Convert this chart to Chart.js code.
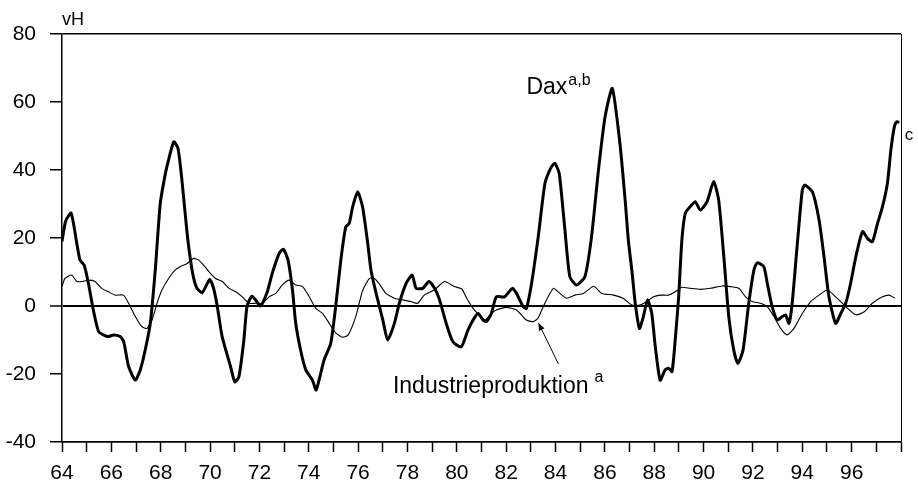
<!DOCTYPE html>
<html>
<head>
<meta charset="utf-8">
<script src="https://cdn.jsdelivr.net/npm/chart.js@4"></script>
<style>
  body { margin: 0; background: #fff; }
  canvas { display: block; }
</style>
</head>
<body>
<canvas id="chart" width="918" height="484"></canvas>
<script>
// Dax, Veraenderung gegen Vorjahr in vH (dicke Linie)
const daxYears = [64.0, 64.15, 64.37, 64.6, 64.73, 64.9, 65.07, 65.27, 65.48, 65.68, 65.88, 66.09, 66.36, 66.5, 66.7, 66.97, 67.17, 67.37, 67.58, 67.78, 67.98, 68.19, 68.32, 68.53, 68.7, 68.86, 69.07, 69.27, 69.45, 69.68, 69.99, 70.15, 70.29, 70.49, 70.83, 71.0, 71.17, 71.37, 71.5, 71.7, 71.89, 72.05, 72.32, 72.52, 72.8, 72.97, 73.16, 73.34, 73.47, 73.67, 73.88, 74.15, 74.3, 74.62, 74.89, 75.09, 75.3, 75.5, 75.64, 75.78, 75.98, 76.18, 76.39, 76.52, 76.73, 77.0, 77.2, 77.47, 77.67, 77.95, 78.19, 78.35, 78.62, 78.87, 79.1, 79.3, 79.57, 79.84, 80.18, 80.45, 80.66, 80.86, 81.06, 81.2, 81.4, 81.6, 81.94, 82.25, 82.42, 82.69, 82.82, 83.03, 83.3, 83.57, 83.8, 83.97, 84.15, 84.38, 84.58, 84.85, 85.19, 85.46, 85.74, 86.01, 86.3, 86.61, 86.82, 86.95, 87.1, 87.23, 87.4, 87.56, 87.73, 87.9, 88.04, 88.24, 88.44, 88.58, 88.72, 88.85, 88.99, 89.12, 89.26, 89.46, 89.66, 89.87, 90.14, 90.41, 90.61, 90.82, 91.02, 91.22, 91.39, 91.6, 91.83, 92.04, 92.17, 92.44, 92.58, 92.78, 92.98, 93.19, 93.32, 93.46, 93.59, 93.8, 94.0, 94.1, 94.41, 94.68, 94.88, 95.08, 95.35, 95.56, 95.76, 95.96, 96.17, 96.44, 96.64, 96.84, 97.05, 97.25, 97.45, 97.59, 97.73, 97.83, 97.93]
const daxValues = [19, 25, 27.3, 18.4, 13.5, 12, 6.7, -1.2, -7.5, -8.5, -9, -8.5, -9, -10.5, -17.8, -21.8, -18.8, -13, -5, 10.6, 30, 39, 43, 48.3, 46.4, 37, 21.4, 10.6, 5.5, 3.9, 7.8, 5, 0, -9, -17.8, -22.3, -20.8, -10, 0, 2.9, 1.3, 0, 4.2, 9.6, 15.5, 16.7, 13.5, 4.7, -5, -13, -18.8, -21.8, -24.7, -15.9, -11, -0.2, 13.5, 23.3, 24.3, 29.2, 33.6, 29.2, 18.4, 10.6, 3.7, -4.1, -10, -5.1, 0.8, 6.7, 9.1, 5.2, 5.2, 7.2, 5.2, 1.8, -5.1, -10.5, -12, -7.1, -4.1, -2.2, -4.1, -4.6, -2.2, 2.7, 2.7, 5.2, 3.7, -0.2, -0.7, 6.7, 20.4, 36, 40.5, 42, 39, 22.4, 8.6, 6.2, 8.6, 20.4, 40, 55.7, 64, 47.8, 31.2, 19.4, 10, 0.8, -6.6, -3.1, 1.8, -2.2, -11.8, -21.8, -18.8, -18.3, -19.3, -10, 2.7, 19.4, 27.3, 29.2, 30.7, 28.2, 30.7, 36.6, 31.2, 14.5, -3.1, -12.9, -16.9, -12.9, 0.8, 10.6, 12.7, 11.6, 6.7, -0.2, -4.1, -3.1, -2.6, -5.1, 0.8, 18.4, 34.1, 35.6, 33.6, 25.3, 14.5, 2.7, -5.1, -2.2, 0.8, 6.7, 14.5, 21.9, 19.9, 18.9, 24.3, 29.2, 36.1, 45.9, 52.7, 54.2, 54]

// Industrieproduktion, Veraenderung gegen Vorjahr in vH (duenne Linie)
const ipYears = [64.0, 64.12, 64.39, 64.6, 64.8, 65.07, 65.34, 65.61, 65.88, 66.15, 66.49, 66.7, 66.97, 67.24, 67.44, 67.65, 67.85, 68.05, 68.32, 68.59, 68.8, 69.07, 69.34, 69.54, 69.8, 69.95, 70.22, 70.5, 70.77, 71.04, 71.31, 71.58, 71.85, 72.12, 72.39, 72.66, 72.93, 73.2, 73.47, 73.75, 74.02, 74.29, 74.56, 74.83, 75.1, 75.37, 75.6, 75.91, 76.18, 76.46, 76.66, 76.86, 77.13, 77.47, 77.81, 78.14, 78.41, 78.68, 79.09, 79.5, 79.9, 80.2, 80.4, 80.66, 80.9, 81.15, 81.4, 81.6, 82.0, 82.42, 82.82, 83.09, 83.29, 83.5, 83.91, 84.18, 84.45, 84.79, 85.13, 85.55, 85.87, 86.35, 86.75, 87.09, 87.43, 87.7, 87.97, 88.24, 88.58, 88.85, 89.12, 89.46, 89.87, 90.27, 90.75, 91.09, 91.43, 91.7, 91.97, 92.31, 92.58, 92.85, 93.12, 93.39, 93.66, 94.0, 94.34, 94.68, 95.02, 95.35, 95.69, 96.17, 96.51, 96.84, 97.25, 97.52, 97.75]
const ipValues = [5.7, 8.1, 9.1, 7.2, 7.2, 7.6, 7.2, 5.2, 4.2, 3.2, 3.2, 0.8, -3.1, -6.1, -6.6, -4.1, 0.8, 4.7, 8.1, 10.6, 11.6, 12.5, 14, 13.5, 11.5, 10.1, 8.1, 7.2, 5.2, 4.2, 2.7, 0.8, 0.8, 0.8, 2.7, 3.7, 6.2, 7.6, 6.2, 5.7, 2.7, -0.7, -2.2, -5.1, -8, -9.2, -8.5, -3, 4.5, 8.1, 8.1, 6.5, 3.7, 2.3, 1.8, 1.3, 0.8, 3.2, 4.7, 7.2, 5.7, 5, 2.3, -0.7, -2.6, -4.1, -2.2, -1.2, -0.4, -1.2, -4.1, -4.6, -3.6, -0.2, 5.2, 3.7, 2.3, 3.2, 3.7, 5.8, 3.7, 3.2, 2.2, 0.3, 0.3, 1.3, 2.7, 3.2, 3.2, 4.2, 5.5, 5.2, 4.9, 5.2, 5.9, 5.7, 5.2, 2.7, 1.3, 0.8, -0.2, -3.1, -6.6, -8.5, -6.6, -2.2, 1.3, 3.2, 4.7, 2.7, 0.3, -2.6, -1.7, 0.8, 2.7, 3.2, 2.3]

const xMin = 64
const xMax = 98
const yMin = -40
const yMax = 80
const yLines = [80, 0, -40]

const FONT = '"Liberation Sans", Arial, Helvetica, sans-serif'

function toPoints(xs, ys) {
    return xs.map((x, i) => ({ x: x, y: ys[i] }))
}

// Beschriftungen im Diagramm (Dax, Industrieproduktion, Pfeil, Fussnote c)
const labelPlugin = {
    id: 'labels',
    afterDraw(chart) {
        const ctx = chart.ctx
        const xs = chart.scales.x
        const ys = chart.scales.y
        ctx.save()
        ctx.fillStyle = '#000'
        ctx.textBaseline = 'alphabetic'
        ctx.textAlign = 'left'

        // vH
        ctx.font = '18px ' + FONT
        ctx.fillText('vH', 62, 25)

        // Dax a,b
        let px = xs.getPixelForValue(82.82)
        let py = ys.getPixelForValue(62.4)
        ctx.font = '23px ' + FONT
        ctx.fillText('Dax', px, py)
        let w = ctx.measureText('Dax').width
        ctx.font = '16px ' + FONT
        ctx.fillText('a,b', px + w + 1, py - 9)

        // Industrieproduktion a
        px = xs.getPixelForValue(77.41)
        py = ys.getPixelForValue(-25.6)
        ctx.font = '23px ' + FONT
        ctx.fillText('Industrieproduktion', px, py)
        w = ctx.measureText('Industrieproduktion').width
        ctx.font = '16px ' + FONT
        ctx.fillText('a', px + w + 6, py - 11)

        // Pfeil
        const x1 = xs.getPixelForValue(84.12), y1 = ys.getPixelForValue(-17.1)
        const x2 = xs.getPixelForValue(83.31), y2 = ys.getPixelForValue(-5)
        ctx.strokeStyle = '#000'
        ctx.lineWidth = 1
        ctx.beginPath()
        ctx.moveTo(x1, y1)
        ctx.lineTo(x2, y2)
        ctx.stroke()
        const ang = Math.atan2(y2 - y1, x2 - x1)
        ctx.beginPath()
        ctx.moveTo(x2, y2)
        ctx.lineTo(x2 - 8 * Math.cos(ang - 0.4), y2 - 8 * Math.sin(ang - 0.4))
        ctx.lineTo(x2 - 8 * Math.cos(ang + 0.4), y2 - 8 * Math.sin(ang + 0.4))
        ctx.closePath()
        ctx.fill()

        // Fussnote c
        ctx.font = '17px ' + FONT
        ctx.fillText('c', xs.getPixelForValue(98.15), ys.getPixelForValue(48.8))
        ctx.restore()
    }
}

function main() {
    const canvas = document.getElementById('chart')
    new Chart(canvas, {
        type: 'line',
        data: {
            datasets: [
                {
                    label: 'Dax',
                    data: toPoints(daxYears, daxValues),
                    borderColor: '#000',
                    borderWidth: 3,
                    pointRadius: 0,
                    tension: 0.2,
                    fill: false
                },
                {
                    label: 'Industrieproduktion',
                    data: toPoints(ipYears, ipValues),
                    borderColor: '#000',
                    borderWidth: 1.1,
                    pointRadius: 0,
                    tension: 0.2,
                    fill: false
                }
            ]
        },
        options: {
            responsive: false,
            animation: false,
            devicePixelRatio: 1,
            layout: { padding: { top: 34, right: 17, left: 0, bottom: 0 } },
            plugins: {
                legend: { display: false },
                tooltip: { enabled: false }
            },
            scales: {
                x: {
                    type: 'linear',
                    min: xMin,
                    max: xMax,
                    afterFit: scale => { scale.height = 42 },
                    border: { display: true, color: '#000', width: 1.5 },
                    grid: {
                        drawOnChartArea: true,
                        color: c => c.tick && c.tick.value === xMax ? '#000' : 'rgba(0,0,0,0)',
                        lineWidth: 1,
                        tickColor: '#000',
                        tickLength: 10,
                        tickWidth: 1.5
                    },
                    ticks: {
                        stepSize: 1,
                        autoSkip: false,
                        maxRotation: 0,
                        padding: 9,
                        color: '#000',
                        font: { family: FONT, size: 21 },
                        callback: v => (v % 2 === 0 && v < xMax) ? String(v) : ''
                    }
                },
                y: {
                    min: yMin,
                    max: yMax,
                    afterFit: scale => { scale.width = 62 },
                    border: { display: true, color: '#000', width: 1.5 },
                    grid: {
                        color: c => c.tick && yLines.includes(c.tick.value) ? '#000' : 'rgba(0,0,0,0)',
                        lineWidth: c => c.tick && c.tick.value === 0 ? 2 : 1.5,
                        tickColor: '#000',
                        tickLength: 12,
                        tickWidth: 1.5
                    },
                    ticks: {
                        stepSize: 20,
                        padding: 14,
                        color: '#000',
                        font: { family: FONT, size: 21 }
                    }
                }
            }
        },
        plugins: [labelPlugin]
    })
}

main()
</script>
</body>
</html>
